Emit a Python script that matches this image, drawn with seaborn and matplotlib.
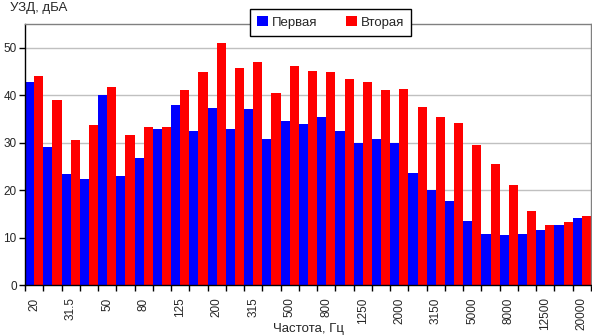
import matplotlib
matplotlib.use("Agg")
import matplotlib.pyplot as plt
import seaborn as sns
import pandas as pd
import numpy as np
from matplotlib.ticker import FixedLocator

freqs = ["20", "25", "31.5", "40", "50", "63", "80", "100", "125", "160", "200", "250",
         "315", "400", "500", "630", "800", "1000", "1250", "1600", "2000", "2500",
         "3150", "4000", "5000", "6300", "8000", "10000", "12500", "16000", "20000"]
first = [42.7, 29.0, 23.3, 22.4, 40.0, 23.0, 26.7, 32.8, 38.0, 32.4, 37.2, 32.8,
         37.0, 30.7, 34.5, 34.0, 35.3, 32.5, 30.0, 30.7, 29.9, 23.5,
         20.1, 17.8, 13.4, 10.8, 10.6, 10.8, 11.5, 12.7, 14.2]
second = [44.0, 38.9, 30.6, 33.8, 41.8, 31.7, 33.2, 33.2, 41.0, 44.8, 51.1, 45.8,
          46.9, 40.5, 46.2, 45.0, 44.8, 43.5, 42.7, 41.0, 41.4, 37.6,
          35.3, 34.1, 29.6, 25.4, 21.0, 15.5, 12.7, 13.2, 14.6]
series_names = ["Первая", "Вторая"]
colors = ["#0000FF", "#FF0000"]

df = pd.DataFrame({
    "freq": freqs * 2,
    "val": first + second,
    "series": [series_names[0]] * len(freqs) + [series_names[1]] * len(freqs),
})

sns.set_theme(style="white")
plt.rcParams["font.family"] = ["Liberation Sans", "DejaVu Sans"]

fig = plt.figure(figsize=(5.92, 3.36), dpi=100)
ax = fig.add_axes([25/592, 1-285/336, 566/592, (285-24)/336])

sns.barplot(data=df, x="freq", y="val", hue="series", order=freqs,
            hue_order=series_names, palette=colors, width=1.0, saturation=1,
            linewidth=0, ax=ax, legend=True)

ax.set_xlim(-0.5, len(freqs) - 0.5)
ax.set_ylim(0, 55)
ax.set_yticks([0, 10, 20, 30, 40, 50])
ax.yaxis.grid(True, color="#C0C0C0", linewidth=1)
ax.set_axisbelow(True)
ax.tick_params(axis="y", labelsize=8.5, length=4, width=1, color="black", pad=2, left=True)

ax.set_xticks(range(len(freqs)))
ax.set_xticklabels([f if i % 2 == 0 else "" for i, f in enumerate(freqs)],
                   rotation=90, fontsize=8.5)
ax.tick_params(axis="x", which="major", length=0, pad=9)
ax.xaxis.set_minor_locator(FixedLocator(np.arange(-0.5, len(freqs), 1.0)))
ax.tick_params(axis="x", which="minor", length=4, width=1, color="black", bottom=True)

ax.set_xlabel("")
ax.set_ylabel("")
for s in ["top", "right"]:
    ax.spines[s].set_color("#808080")
    ax.spines[s].set_linewidth(1)
for s in ["left", "bottom"]:
    ax.spines[s].set_color("black")
    ax.spines[s].set_linewidth(1)

fig.text(10/592, 1-2/336, "УЗД, дБА", fontsize=9.5, ha="left", va="top")
fig.text(308/592, 1/336, "Частота, Гц", fontsize=9.5, ha="center", va="bottom")

leg = ax.legend(loc="upper center", bbox_to_anchor=(330.5/592, 1-9/336),
                bbox_transform=fig.transFigure, ncol=2, fontsize=9.5,
                frameon=True, fancybox=False, edgecolor="black",
                handlelength=0.8, handleheight=0.8, handletextpad=0.3,
                columnspacing=2.2, borderpad=0.55, borderaxespad=0, framealpha=1)
leg.get_frame().set_linewidth(1)

fig.savefig("out.png", dpi=100)
